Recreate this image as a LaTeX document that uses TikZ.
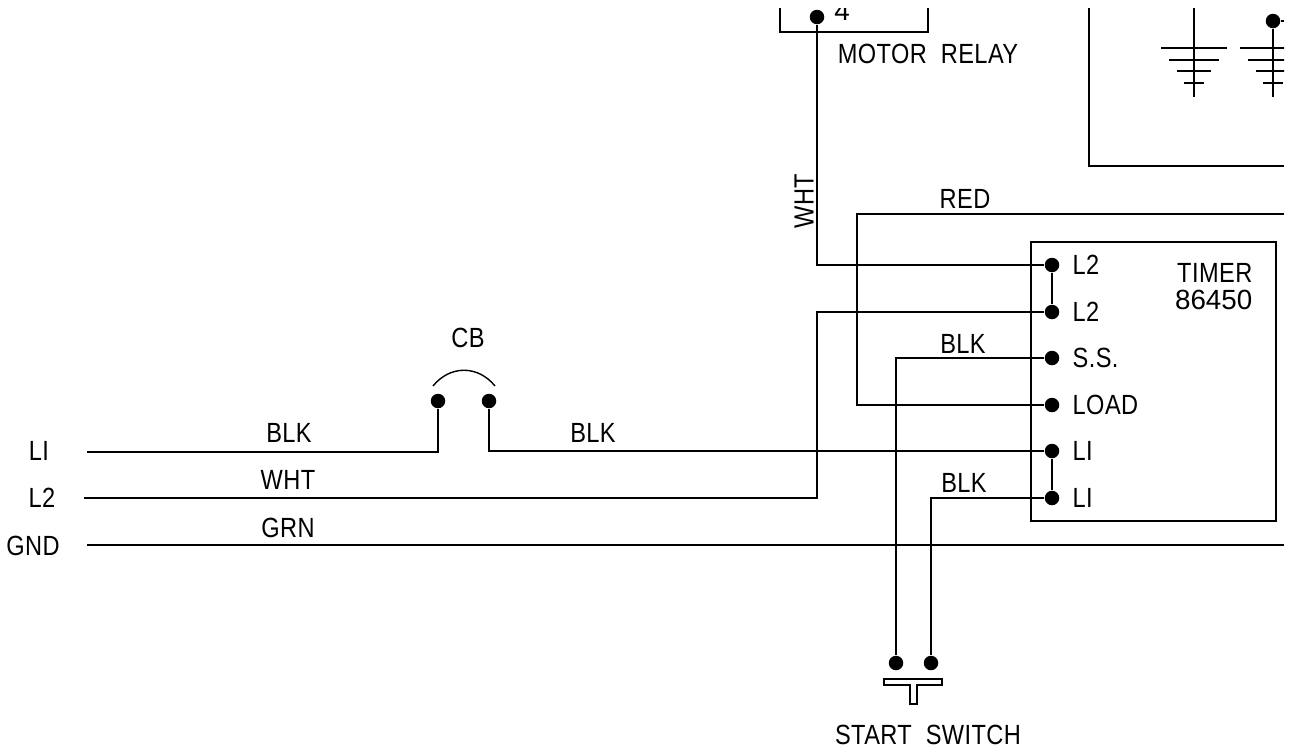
\documentclass[tikz,border=0pt]{standalone}
\usepackage{fontspec}
\setmainfont[FakeStretch=0.85,LetterSpace=1.5]{Liberation Sans}
\newfontfamily\numfont{Liberation Sans}

\begin{document}
\begin{tikzpicture}[x=0.02cm,y=-0.02cm,line width=0.8pt,
  term/.style={circle,fill=black,draw=none,inner sep=0pt,minimum size=0.29cm},
  lbl/.style={font=\fontsize{15.8}{18}\selectfont,inner sep=0pt,anchor=center},
  pin/.style={lbl,anchor=west}]
  \useasboundingbox (0,0) rectangle (1289,748);
  \clip (0,8) rectangle (1284,748);
  % terminals
  \node[term] (t1) at (1052,265) {};
  \node[term] (t2) at (1052,312) {};
  \node[term] (t3) at (1052,358) {};
  \node[term] (t4) at (1052,405) {};
  \node[term] (t5) at (1052,451) {};
  \node[term] (t6) at (1052,498) {};
  \node[term] (relay4) at (817,17) {};
  \node[term] (cba) at (438,401) {};
  \node[term] (cbb) at (489,401) {};
  \node[term] (swa) at (896,663) {};
  \node[term] (swb) at (931,663) {};
  \node[term] (gnd2) at (1273,21) {};
  % free wire ends
  \coordinate (l1) at (87,452);
  \coordinate (l2) at (84,498);
  \coordinate (gl) at (87,545);
  \coordinate (gr) at (1284,545);
  \coordinate (redr) at (1284,214);
  \coordinate (boxr) at (1284,166);
  \coordinate (boxt) at (1089,8);
  % timer and relay outlines
  \draw (1031,242) rectangle (1276,521);
  \draw (780,8) -- (780,32) -- (928,32) -- (928,8);
  \draw (boxt) |- (boxr);
  % wires
  \draw (relay4) |- (t1);
  \draw (t1) -- (t2);
  \draw (t5) -- (t6);
  \draw (l2) -- (817,498) |- (t2);
  \draw (t3) -| (swa);
  \draw (t6) -| (swb);
  \draw (redr) -- (857,214) |- (t4);
  \draw (l1) -| (cba);
  \draw (cbb) |- (t5);
  \draw (gl) -- (gr);
  \draw (gnd2) -- (1284,21);
  % breaker arc and push button
  \draw (433,386) .. controls (450,365) and (478,365) .. (495,386);
  \draw (884,679) -- (942,679) -- (942,685) -- (917,685) -- (917,704) -- (910,704) -- (910,685) -- (884,685) -- cycle;
  % grounds
  \draw (1194,8) -- (1194,97);
  \draw (gnd2) -- (1273,97);
  \foreach \gx in {1194,1273} {
    \draw (\gx-33,48) -- (\gx+33,48);
    \draw (\gx-25,60) -- (\gx+25,60);
    \draw (\gx-17,71) -- (\gx+17,71);
    \draw (\gx-10,83) -- (\gx+10,83);
  }
  % labels
  \node[lbl] (in1) at (39,451) {LI};
  \node[lbl] (in2) at (42,498) {L2};
  \node[lbl] (in3) at (33,546) {GND};
  \node[lbl] (wblk1) at (289,433) {BLK};
  \node[lbl] (wblk2) at (593,433) {BLK};
  \node[lbl] (wwht1) at (288,480) {WHT};
  \node[lbl] (wgrn) at (288,528) {GRN};
  \node[lbl] (cblbl) at (468,338) {CB};
  \node[lbl] (wred) at (965,199) {RED};
  \node[lbl] (wblk3) at (963,344) {BLK};
  \node[lbl] (wblk4) at (964,483) {BLK};
  \node[lbl,rotate=90] (wwht2) at (804,201) {WHT};
  \node[lbl] (relaylbl) at (928,54) {MOTOR\ \ RELAY};
  \node[lbl] (four) at (842,11) {\numfont 4};
  \node[lbl] (swlbl) at (928,735) {START\ \ SWITCH};
  \node[lbl,anchor=east] (timer) at (1253,273) {TIMER};
  \node[lbl,anchor=east] (model) at (1253,300) {\numfont 86450};
  \node[pin] (p1) at (1072,265) {L2};
  \node[pin] (p2) at (1072,312) {L2};
  \node[pin] (p3) at (1072,358) {S.S.};
  \node[pin] (p4) at (1072,405) {LOAD};
  \node[pin] (p5) at (1072,451) {LI};
  \node[pin] (p6) at (1072,498) {LI};
\end{tikzpicture}
\end{document}
